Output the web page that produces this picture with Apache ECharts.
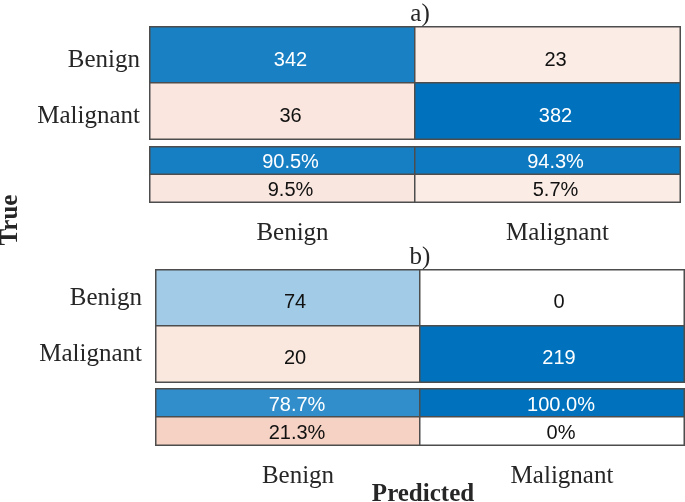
<!DOCTYPE html>
<html>
<head>
<meta charset="utf-8">
<script src="https://cdn.jsdelivr.net/npm/echarts@6/dist/echarts.min.js"></script>
<style>
html,body{margin:0;padding:0;background:#fff;}
#chart{width:685px;height:502px;}
</style>
</head>
<body>
<div id="chart"></div>
<script>
// ---- data ----
const classes = ['Benign', 'Malignant'];
// counts: rows = true class, cols = predicted class
const countsA = [[342, 23], [36, 382]];
const countsB = [[74, 0], [20, 219]];
// column summary (%): row 0 = correct, row 1 = incorrect
const pctA = [[90.5, 94.3], [9.5, 5.7]];
const pctB = [[78.7, 100.0], [21.3, 0]];
const panelTitles = ['a)', 'b)'];

// ---- styling helpers ----
const BLUE = [0, 114, 189];
const RED = [217, 83, 25];
function mix(base, f) {
  f = Math.max(0, Math.min(1, f));
  const c = base.map(b => Math.round(255 - f * (255 - b)));
  return 'rgb(' + c.join(',') + ')';
}
function cellStyle(good, v, maxV) {
  if (v === 0) return { bg: '#ffffff', fg: '#111' };
  const f = v / maxV;
  if (good) return { bg: mix(BLUE, Math.pow(f, 0.92)), fg: f > 0.5 ? '#ffffff' : '#111' };
  return { bg: mix(RED, 0.05 + f), fg: '#111' };
}
function buildCounts(m) {
  const maxV = Math.max.apply(null, m.flat());
  const out = [];
  m.forEach((row, i) => row.forEach((v, j) => {
    const s = cellStyle(i === j, v, maxV);
    out.push({ value: [j, i, v], itemStyle: { color: s.bg }, label: { color: s.fg } });
  }));
  return out;
}
function buildPct(m) {
  const out = [];
  m.forEach((row, i) => row.forEach((v, j) => {
    const s = cellStyle(i === 0, v, 100);
    out.push({ value: [j, i, v], itemStyle: { color: s.bg }, label: { color: s.fg } });
  }));
  return out;
}
const pctFmt = p => { const v = p.value[2]; return v === 0 ? '0%' : v.toFixed(1) + '%'; };
const cntFmt = p => String(p.value[2]);

const SERIF = '"Liberation Serif", "Times New Roman", serif';
const SANS = '"Liberation Sans", Arial, sans-serif';

const grids = [
  { left: 150, top: 27, width: 530, height: 112 },
  { left: 150, top: 147, width: 530, height: 55 },
  { left: 156, top: 270, width: 528, height: 112 },
  { left: 156, top: 389, width: 528, height: 56 }
];
const labelOffsets = [[8, 5], [8, 2], [7, 4], [9, 2]];

const xAxes = grids.map((g, k) => ({
  type: 'category', gridIndex: k, data: classes, position: 'bottom',
  axisLine: { show: false }, axisTick: { show: false }, splitLine: { show: false },
  axisLabel: { show: k === 1 || k === 3, margin: 19, padding: [0, 0, 0, 20],
    fontFamily: SERIF, fontSize: 25, color: '#262626' }
}));
const yAxes = grids.map((g, k) => {
  const lab = { show: k % 2 === 0, margin: k === 0 ? 10 : 14, fontFamily: SERIF, fontSize: 25, color: '#262626' };
  if (k === 0) { lab.verticalAlign = 'top'; lab.lineHeight = 10; }
  return {
    type: 'category', gridIndex: k, data: k % 2 === 0 ? classes : ['c', 'i'], inverse: true,
    axisLine: { show: false }, axisTick: { show: false }, splitLine: { show: false },
    axisLabel: lab
  };
});

const mats = [buildCounts(countsA), buildPct(pctA), buildCounts(countsB), buildPct(pctB)];
const series = mats.map((d, k) => ({
  type: 'heatmap', xAxisIndex: k, yAxisIndex: k, data: d,
  itemStyle: { borderColor: '#4d4d4d', borderWidth: 1.5 },
  label: { show: true, fontFamily: SANS, fontSize: 20, offset: labelOffsets[k],
    formatter: k % 2 === 0 ? cntFmt : pctFmt },
  emphasis: { disabled: true }, silent: true, animation: false
}));

const option = {
  backgroundColor: '#ffffff',
  animation: false,
  title: [
    { text: panelTitles[0], left: 415, top: -3, textAlign: 'center',
      textStyle: { fontFamily: SERIF, fontSize: 25, fontWeight: 'normal', color: '#262626' } },
    { text: panelTitles[1], left: 415, top: 240, textAlign: 'center',
      textStyle: { fontFamily: SERIF, fontSize: 25, fontWeight: 'normal', color: '#262626' } }
  ],
  grid: grids,
  xAxis: xAxes,
  yAxis: yAxes,
  series: series,
  graphic: [
    { type: 'text', x: 11, y: 220, rotation: Math.PI / 2,
      style: { text: 'True', font: 'bold 25px ' + SERIF, fill: '#262626', textAlign: 'center', textVerticalAlign: 'middle' } },
    { type: 'text', x: 423, y: 495,
      style: { text: 'Predicted', font: 'bold 25px ' + SERIF, fill: '#262626', textAlign: 'center', textVerticalAlign: 'middle' } }
  ]
};

const chart = echarts.init(document.getElementById('chart'), null, { renderer: 'canvas' });
chart.setOption(option);
</script>
</body>
</html>
